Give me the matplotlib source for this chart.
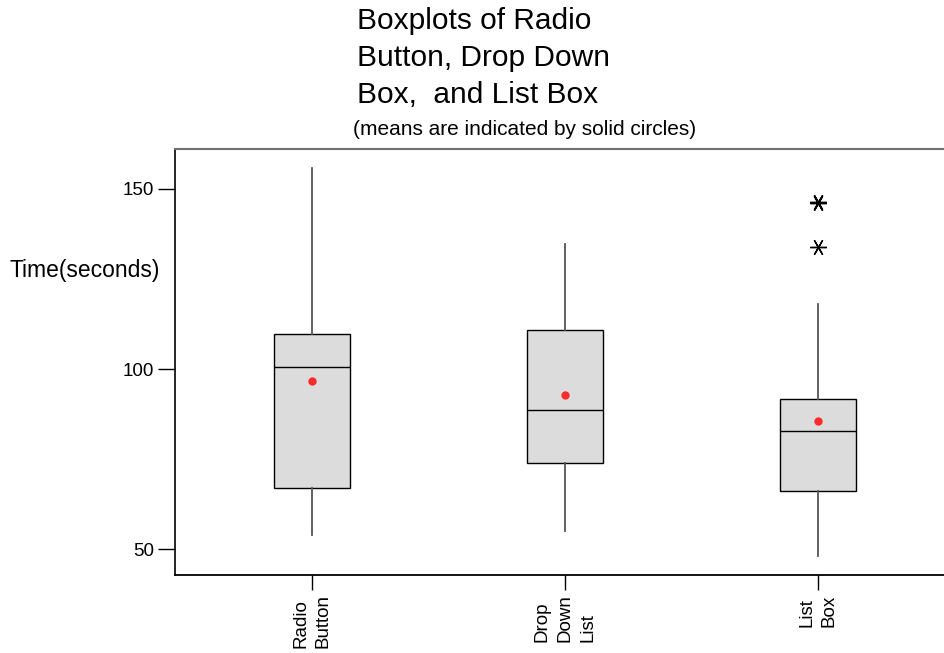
import matplotlib
matplotlib.use('Agg')
import matplotlib.pyplot as plt

plt.rcParams['font.family'] = ['Liberation Sans', 'DejaVu Sans']

# box statistics
groups = ['Radio\nButton', 'Drop\nDown\nList', 'List\nBox']
q1 = [66.9, 73.9, 66.1]
medians = [100.7, 88.6, 82.7]
q3 = [109.7, 110.8, 91.7]
whislo = [53.9, 55.0, 48.1]
whishi = [155.8, 134.7, 118.0]
means = [96.8, 92.8, 85.7]
fliers = [[], [], [146.0, 146.5, 133.8]]

W, H = 944, 653
fig = plt.figure(figsize=(W / 100, H / 100), dpi=100)
ax = fig.add_axes([175 / W, (H - 575) / H, (965 - 175) / W, (575 - 149) / H])

stats = []
for i in range(len(groups)):
    stats.append(dict(med=medians[i], q1=q1[i], q3=q3[i], whislo=whislo[i],
                      whishi=whishi[i], mean=means[i], fliers=fliers[i], label=groups[i]))

pos = list(range(1, len(groups) + 1))
ax.bxp(stats, positions=pos, widths=0.30, patch_artist=True,
       showmeans=True, showcaps=False, showfliers=True,
       boxprops=dict(facecolor='#dcdcdc', edgecolor='black', linewidth=1.0),
       medianprops=dict(color='black', linewidth=1.0),
       whiskerprops=dict(color='#555555', linewidth=1.3),
       meanprops=dict(marker='o', markerfacecolor='#ff2a2a', markeredgecolor='#ff2a2a',
                      markersize=5),
       flierprops=dict(marker=(6, 2, 90), markeredgecolor='black', markerfacecolor='black',
                       markersize=12, markeredgewidth=1.0, linestyle='none'))

ax.set_xlim(1 - 137 / 253, 1 + (965 - 312) / 253)
ax.set_ylim(42.8, 161.1)
ax.set_yticks([50, 100, 150])
ax.tick_params(axis='y', labelsize=13.5, length=12, width=1, pad=3)
ax.tick_params(axis='x', labelsize=13.5, length=11, width=1, pad=3)
ax.set_xticks(pos)
ax.set_xticklabels(groups, rotation=90, va='top', ha='center', multialignment='left',
                   linespacing=1.45)

ax.spines['right'].set_visible(False)
ax.spines['top'].set_color('#707070')
ax.spines['top'].set_linewidth(1.5)
ax.spines['bottom'].set_linewidth(1.3)
ax.spines['left'].set_linewidth(1.2)

fig.text(160 / W, 1 - 270 / H, 'Time(seconds)', ha='right', va='center', fontsize=16.5)

fig.text(357 / W, 1 - 7 / H, 'Boxplots of Radio\nButton, Drop Down\nBox,  and List Box',
         ha='left', va='top', fontsize=21.5, linespacing=1.42)
fig.text(353 / W, 1 - 120 / H, '(means are indicated by solid circles)',
         ha='left', va='top', fontsize=15)

fig.savefig('out.png', dpi=100)
